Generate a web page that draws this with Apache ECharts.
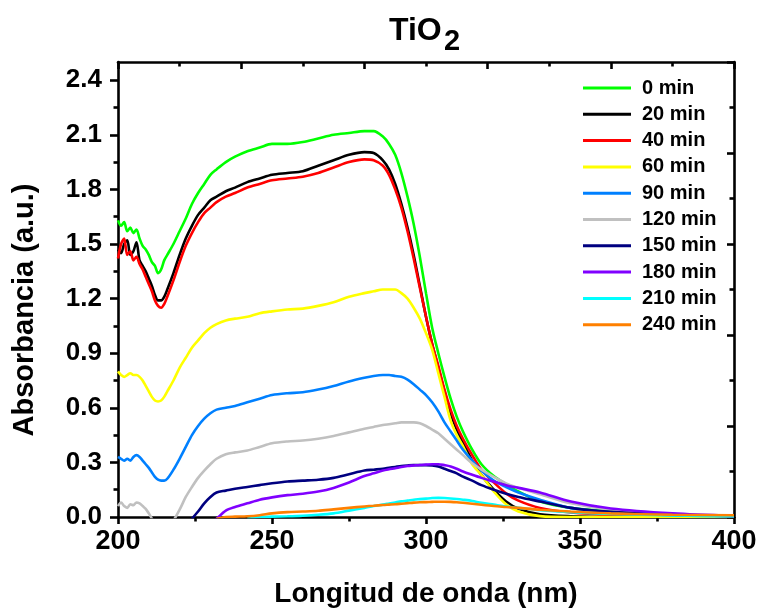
<!DOCTYPE html>
<html>
<head>
<meta charset="utf-8">
<script src="https://cdn.jsdelivr.net/npm/echarts@6/dist/echarts.min.js"></script>
<style>
html,body{margin:0;padding:0;background:#ffffff;}
#chart{width:760px;height:611px;}
</style>
</head>
<body>
<div id="chart"></div>
<script>
// ---- Data ----
const wavelength = [200,201,202,203,204,205,206,207,208,209,
  210,211,212,213,214,215,216,218,220,222,
  224,226,228,230,232,235,238,242,246,250,
  255,260,265,270,275,280,283,286,288,290,
  292,294,296,298,300,302,304,306,308,310,
  312,315,318,322,326,330,337,347,360,380,
  400];

const abs0min = [1.63,1.60,1.62,1.57,1.59,1.56,1.58,1.53,1.49,1.47,
  1.44,1.40,1.38,1.34,1.36,1.41,1.44,1.50,1.57,1.64,
  1.72,1.78,1.83,1.88,1.91,1.95,1.98,2.01,2.03,2.05,
  2.05,2.06,2.08,2.10,2.11,2.12,2.12,2.09,2.05,1.99,
  1.89,1.76,1.61,1.43,1.23,1.04,0.90,0.77,0.65,0.55,
  0.47,0.37,0.29,0.225,0.18,0.14,0.085,0.05,0.03,0.012,
  0.005];

const abs20min = [1.47,1.45,1.50,1.52,1.44,1.46,1.51,1.41,1.38,1.35,
  1.31,1.27,1.22,1.19,1.19,1.21,1.25,1.34,1.44,1.53,
  1.60,1.66,1.70,1.74,1.76,1.79,1.81,1.84,1.86,1.88,
  1.89,1.90,1.93,1.96,1.99,2.005,2.00,1.96,1.91,1.83,
  1.72,1.59,1.44,1.27,1.10,0.95,0.82,0.69,0.57,0.48,
  0.41,0.31,0.23,0.15,0.085,0.045,0.015,0.004,0,0,
  0];

const abs40min = [1.42,1.50,1.53,1.44,1.46,1.41,1.43,1.39,1.36,1.32,
  1.28,1.24,1.19,1.16,1.15,1.17,1.21,1.30,1.40,1.49,
  1.56,1.62,1.67,1.70,1.73,1.76,1.78,1.81,1.83,1.85,
  1.86,1.87,1.89,1.92,1.95,1.965,1.96,1.93,1.88,1.80,
  1.70,1.57,1.42,1.26,1.10,0.95,0.83,0.70,0.59,0.50,
  0.43,0.34,0.26,0.19,0.13,0.09,0.05,0.025,0.012,0.005,
  0.003];

const abs60min = [0.80,0.78,0.77,0.78,0.79,0.78,0.78,0.77,0.75,0.72,
  0.69,0.66,0.64,0.635,0.64,0.66,0.69,0.75,0.82,0.875,
  0.93,0.97,1.01,1.04,1.06,1.08,1.09,1.10,1.12,1.13,
  1.14,1.145,1.16,1.18,1.21,1.23,1.24,1.25,1.25,1.25,
  1.23,1.20,1.15,1.09,1.01,0.92,0.79,0.66,0.53,0.45,
  0.39,0.29,0.23,0.14,0.07,0.03,0.005,0,0,0,
  0];

const abs90min = [0.33,0.32,0.31,0.32,0.31,0.33,0.34,0.33,0.31,0.29,
  0.27,0.245,0.22,0.205,0.20,0.20,0.21,0.26,0.32,0.385,
  0.45,0.50,0.54,0.57,0.59,0.60,0.61,0.63,0.65,0.67,
  0.68,0.685,0.70,0.72,0.745,0.765,0.775,0.78,0.78,0.775,
  0.77,0.755,0.73,0.70,0.67,0.63,0.58,0.52,0.47,0.42,
  0.37,0.31,0.255,0.20,0.165,0.135,0.095,0.05,0.025,0.01,
  0.005];

const abs120min = [0.06,0.08,0.06,0.05,0.07,0.065,0.08,0.075,0.06,0.045,
  0.02,-0.01,-0.06,-0.10,-0.12,-0.10,-0.06,-0.02,0.04,0.11,
  0.165,0.215,0.255,0.29,0.32,0.345,0.355,0.365,0.385,0.405,
  0.415,0.42,0.43,0.445,0.465,0.485,0.495,0.505,0.51,0.515,
  0.52,0.52,0.52,0.515,0.50,0.48,0.46,0.43,0.40,0.37,
  0.34,0.295,0.26,0.22,0.185,0.16,0.125,0.075,0.04,0.013,
  0.005];

const abs150min = [null,null,null,null,null,null,null,null,null,null,
  null,null,null,null,null,null,null,null,null,-0.06,
  -0.01,0.03,0.075,0.11,0.135,0.145,0.155,0.165,0.175,0.185,
  0.195,0.20,0.205,0.215,0.235,0.255,0.26,0.265,0.27,0.275,
  0.28,0.283,0.285,0.285,0.285,0.283,0.277,0.265,0.253,0.24,
  0.222,0.20,0.175,0.15,0.128,0.11,0.085,0.05,0.028,0.012,
  0.005];

const abs180min = [null,null,null,null,null,null,null,null,null,null,
  null,null,null,null,null,null,null,null,null,null,
  null,null,null,-0.04,-0.01,0.035,0.055,0.075,0.095,0.108,
  0.12,0.128,0.14,0.16,0.19,0.225,0.24,0.255,0.262,0.268,
  0.275,0.28,0.283,0.286,0.288,0.29,0.29,0.285,0.278,0.265,
  0.25,0.232,0.215,0.195,0.175,0.16,0.135,0.085,0.047,0.02,
  0.006];

const abs210min = [null,null,null,null,null,null,null,null,null,null,
  null,null,null,null,null,null,null,null,null,null,
  null,null,null,null,null,null,null,-0.01,0,0.002,
  0.004,0.007,0.012,0.02,0.035,0.05,0.06,0.068,0.074,0.08,
  0.086,0.09,0.095,0.098,0.101,0.104,0.105,0.104,0.102,0.099,
  0.095,0.088,0.078,0.068,0.058,0.05,0.037,0.026,0.017,0.008,
  0.004];

const abs240min = [null,null,null,null,null,null,null,null,null,null,
  null,null,null,null,null,null,null,null,null,null,
  null,null,null,null,-0.01,0,0.002,0.004,0.01,0.02,
  0.027,0.03,0.034,0.042,0.05,0.058,0.062,0.066,0.068,0.07,
  0.073,0.076,0.079,0.081,0.082,0.083,0.084,0.084,0.083,0.081,
  0.078,0.073,0.067,0.06,0.055,0.05,0.04,0.03,0.02,0.012,
  0.01];

const seriesNames = ['0 min','20 min','40 min','60 min','90 min','120 min','150 min','180 min','210 min','240 min'];
const seriesValues = [abs0min, abs20min, abs40min, abs60min, abs90min, abs120min, abs150min, abs180min, abs210min, abs240min];

// Tick labels
const xTickValues = [200, 250, 300, 350, 400];
const yTickValues = [0.0, 0.3, 0.6, 0.9, 1.2, 1.5, 1.8, 2.1, 2.4];
const yMinorTickValues = [0.15, 0.45, 0.75, 1.05, 1.35, 1.65, 1.95, 2.25];

const titleMain = 'TiO';
const titleSub = '2';
const xTitle = 'Longitud de onda (nm)';
const yTitle = 'Absorbancia (a.u.)';

// ---- Styles ----
const seriesColors = ['#00ff00','#000000','#ff0000','#ffff00','#0080ff','#c0c0c0','#000080','#8000ff','#00ffff','#ff8000'];
const FONT = '"Liberation Sans", Arial, sans-serif';
const AXIS_W = 2.6;

const chart = echarts.init(document.getElementById('chart'), null, {renderer: 'canvas'});

const series = seriesNames.map((name, k) => ({
  name: name,
  type: 'line',
  xAxisIndex: 0,
  yAxisIndex: 0,
  symbol: 'none',
  smooth: 0.3,
  clip: true,
  lineStyle: {color: seriesColors[k], width: 2.6},
  itemStyle: {color: seriesColors[k]},
  emphasis: {disabled: true},
  data: wavelength.map((w, i) => [w, seriesValues[k][i]]).filter(p => p[1] !== null)
}));

const option = {
  backgroundColor: '#ffffff',
  animation: false,
  textStyle: {fontFamily: FONT},
  grid: {left: 118, right: 26, top: 62, bottom: 94, containLabel: false},
  legend: {
    data: seriesNames.map(n => ({name: n, icon: 'rect'})),
    orient: 'vertical',
    left: 583,
    top: 78,
    padding: 0,
    itemWidth: 48,
    itemHeight: 3,
    itemGap: 6.3,
    selectedMode: false,
    textStyle: {fontFamily: FONT, fontSize: 20, fontWeight: 'bold', color: '#000', lineHeight: 20, padding: [0,0,0,6]}
  },
  xAxis: [
    {
      type: 'value', position: 'bottom', min: 200, max: 400, interval: 50,
      axisLine: {show: true, onZero: false, lineStyle: {color: '#000', width: AXIS_W}},
      axisTick: {show: true, inside: false, length: 7, customValues: xTickValues, lineStyle: {color: '#000', width: AXIS_W}},
      minorTick: {show: true, splitNumber: 2, length: 4.5, lineStyle: {color: '#000', width: AXIS_W}},
      axisLabel: {show: true, customValues: xTickValues, margin: 11, fontFamily: FONT, fontSize: 27, fontWeight: 'bold', color: '#000'},
      splitLine: {show: false}
    },
    {
      type: 'value', position: 'top', min: 200, max: 400, interval: 40,
      axisLine: {show: true, onZero: false, lineStyle: {color: '#000', width: AXIS_W}},
      axisTick: {show: true, inside: true, length: 7, lineStyle: {color: '#000', width: AXIS_W}},
      minorTick: {show: true, splitNumber: 2, length: 4.5, lineStyle: {color: '#000', width: AXIS_W}},
      axisLabel: {show: false},
      splitLine: {show: false}
    }
  ],
  yAxis: [
    {
      type: 'value', position: 'left', min: 0, max: 2.5,
      axisLine: {show: true, onZero: false, lineStyle: {color: '#000', width: AXIS_W}},
      axisTick: {show: true, inside: false, length: 8, customValues: yTickValues, lineStyle: {color: '#000', width: AXIS_W}},
      axisLabel: {show: true, customValues: yTickValues, margin: 16, formatter: v => Number(v).toFixed(1),
        fontFamily: FONT, fontSize: 26, fontWeight: 'bold', color: '#000'},
      splitLine: {show: false}
    },
    {
      type: 'value', position: 'left', min: 0, max: 2.5,
      axisLine: {show: false},
      axisTick: {show: true, inside: false, length: 4.5, customValues: yMinorTickValues, lineStyle: {color: '#000', width: AXIS_W}},
      axisLabel: {show: false},
      splitLine: {show: false}
    },
    {
      type: 'value', position: 'right', min: 0, max: 2.5, interval: 0.5,
      axisLine: {show: true, onZero: false, lineStyle: {color: '#000', width: AXIS_W}},
      axisTick: {show: true, inside: true, length: 7, lineStyle: {color: '#000', width: AXIS_W}},
      minorTick: {show: true, splitNumber: 2, length: 4.5, lineStyle: {color: '#000', width: AXIS_W}},
      axisLabel: {show: false},
      splitLine: {show: false}
    }
  ],
  graphic: [
    {type: 'text', x: 389, y: 31, style: {text: titleMain, font: 'bold 32px ' + FONT, fill: '#000', textAlign: 'left', textVerticalAlign: 'middle'}},
    {type: 'text', x: 444, y: 42, style: {text: titleSub, font: 'bold 29px ' + FONT, fill: '#000', textAlign: 'left', textVerticalAlign: 'middle'}},
    {type: 'text', x: 426, y: 594, style: {text: xTitle, font: 'bold 28px ' + FONT, fill: '#000', textAlign: 'center', textVerticalAlign: 'middle'}},
    {type: 'text', x: 25, y: 310, rotation: Math.PI / 2, style: {text: yTitle, font: 'bold 29px ' + FONT, fill: '#000', textAlign: 'center', textVerticalAlign: 'middle'}}
  ],
  series: series
};

chart.setOption(option);
</script>
</body>
</html>
